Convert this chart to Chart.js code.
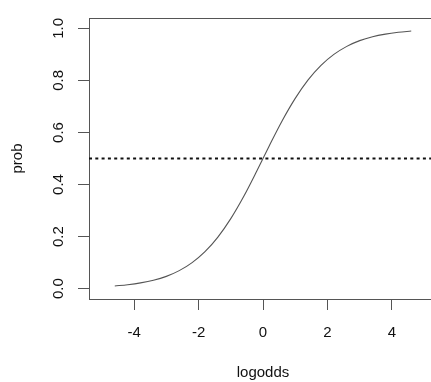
<!DOCTYPE html>
<html>
<head>
<meta charset="utf-8">
<script src="https://cdn.jsdelivr.net/npm/chart.js@4/dist/chart.umd.min.js"></script>
<style>
  html, body { margin: 0; padding: 0; background: #fff; overflow: hidden; width: 431px; height: 382px; }
  #wrap { position: absolute; left: 0; top: 0; width: 445px; height: 382px; }
</style>
</head>
<body>
<div id="wrap"><canvas id="c" width="445" height="382"></canvas></div>
<script>
// Curve
const logodds = [-4.6, -4.2, -3.8, -3.4, -3.0, -2.6, -2.2, -1.8, -1.4, -1.0, -0.6, -0.2,
                 0.2, 0.6, 1.0, 1.4, 1.8, 2.2, 2.6, 3.0, 3.4, 3.8, 4.2, 4.6];
const prob = [0.010, 0.015, 0.022, 0.032, 0.047, 0.069, 0.100, 0.142, 0.198, 0.269, 0.354, 0.450,
              0.550, 0.646, 0.731, 0.802, 0.858, 0.900, 0.931, 0.953, 0.968, 0.978, 0.985, 0.990];
// Horizontal reference line
const refX = [-5.4, 5.4];
const refY = [0.5, 0.5];
// Tick labels
const xTicks = [-4, -2, 0, 2, 4];
const yTicks = [0.0, 0.2, 0.4, 0.6, 0.8, 1.0];

const FONT = "'Liberation Sans', Arial, Helvetica, sans-serif";
const AXIS = '#555555';

new Chart(document.getElementById('c'), {
  type: 'line',
  data: {
    datasets: [
      {
        data: logodds.map((x, i) => ({ x: x, y: prob[i] })),
        borderColor: '#555555',
        borderWidth: 1.1,
        pointRadius: 0,
        cubicInterpolationMode: 'monotone',
        fill: false
      },
      {
        data: refX.map((x, i) => ({ x: x, y: refY[i] })),
        borderColor: '#111111',
        borderWidth: 2,
        borderDash: [3, 3.3],
        pointRadius: 0,
        fill: false
      }
    ]
  },
  options: {
    responsive: false,
    animation: false,
    devicePixelRatio: 1,
    layout: { padding: { left: 0, right: 8, top: 13, bottom: 0 } },
    plugins: { legend: { display: false }, tooltip: { enabled: false } },
    scales: {
      x: {
        type: 'linear',
        position: 'bottom',
        min: -5.4,
        max: 5.4,
        afterBuildTicks: s => { s.ticks = xTicks.map(v => ({ value: v })); },
        afterFit: s => { s.height = 83; },
        ticks: {
          color: '#111',
          font: { family: FONT, size: 15 },
          padding: 14,
          callback: v => String(v)
        },
        grid: { display: true, drawOnChartArea: false, drawTicks: true, tickLength: 11, color: AXIS, lineWidth: 1 },
        border: { display: true, color: AXIS, width: 1 },
        title: {
          display: true,
          text: 'logodds',
          color: '#111',
          font: { family: FONT, size: 15 },
          padding: { top: 0, bottom: 0 }
        }
      },
      x2: {
        type: 'linear',
        position: 'top',
        min: -5.4,
        max: 5.4,
        afterFit: s => { s.height = 0; },
        ticks: { display: false },
        grid: { display: false, drawTicks: false },
        border: { display: true, color: AXIS, width: 1 }
      },
      y: {
        type: 'linear',
        position: 'left',
        min: -0.04,
        max: 1.04,
        afterBuildTicks: s => { s.ticks = yTicks.map(v => ({ value: v })); },
        afterFit: s => { s.width = 89; },
        ticks: {
          color: '#111',
          font: { family: FONT, size: 15 },
          minRotation: 90,
          maxRotation: 90,
          crossAlign: 'center',
          padding: 9,
          callback: v => Number(v).toFixed(1)
        },
        grid: { display: true, drawOnChartArea: false, drawTicks: true, tickLength: 11, color: AXIS, lineWidth: 1 },
        border: { display: true, color: AXIS, width: 1 },
        title: {
          display: true,
          text: 'prob',
          color: '#111',
          font: { family: FONT, size: 15 },
          padding: { top: 9, bottom: 0 }
        }
      }
    }
  }
});
</script>
</body>
</html>
